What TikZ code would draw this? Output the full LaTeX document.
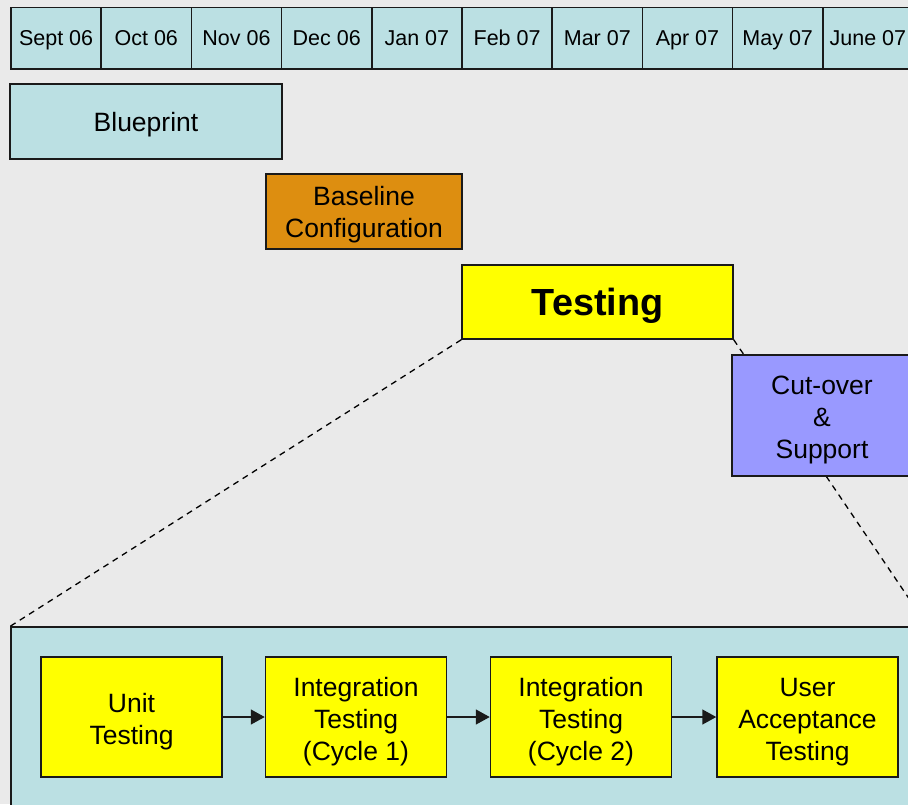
\documentclass[tikz,border=0pt]{standalone}
\usepackage{fontspec}
\setmainfont{Liberation Sans}
\usetikzlibrary{arrows.meta}
\definecolor{bg}{HTML}{EAEAEA}
\definecolor{paleblue}{HTML}{BBE0E3}
\definecolor{amber}{HTML}{DD8E10}
\definecolor{lilac}{HTML}{9999FF}
\definecolor{sun}{HTML}{FFFF00}
\definecolor{edge}{HTML}{1A1A1A}
\begin{document}
\begin{tikzpicture}[x=1pt,y=-1pt,
  box/.style={draw=edge, line width=1.5pt, inner sep=0pt, align=center,
    font=\fontsize{26.5}{32}\selectfont, text height=19pt, text depth=0pt},
  twolines/.style={text height=51pt},
  threelines/.style={text height=83pt},
  cell/.style={box, fill=paleblue, minimum width=90.2, minimum height=61.5,
    font=\fontsize{21.5}{26}\selectfont, text height=15.4pt},
  stage/.style={box, fill=sun, minimum width=181, minimum height=120},
  stagetwo/.style={stage, text height=55pt},
  stagethree/.style={stage, text height=87pt},
  flow/.style={line width=1.5pt, draw=edge, -{Triangle[length=14pt,width=15pt]}},
  zoomline/.style={dashed, dash pattern=on 6pt off 5pt, line width=1.3pt, draw=black}]
\useasboundingbox (0,0) rectangle (908,804);
\fill[bg] (0,0) rectangle (908,804);
\clip (0,0) rectangle (908,804);

% month ruler
\foreach \m [count=\i from 0] in {Sept 06,Oct 06,Nov 06,Dec 06,Jan 07,Feb 07,Mar 07,Apr 07,May 07,June 07}
  \node[cell] (m\i) at ({56.1+90.2*\i},38.25) {\m};

% project phases
\node[box, fill=paleblue, minimum width=272, minimum height=75] (blue) at (146,121.5) {Blueprint};
\node[box, twolines, fill=amber, minimum width=196, minimum height=75] (base) at (364,211.5) {Baseline\\Configuration};
\node[box, fill=sun, minimum width=271, minimum height=74, text height=27pt,
  font=\fontsize{37.8}{44}\selectfont\bfseries] (test) at (597.5,302) {Testing};

% expanded testing panel
\node[box, fill=paleblue, minimum width=916, minimum height=203] (detail) at (469,728.5) {};
\draw[zoomline] (test.south west) -- (detail.north west);
\draw[zoomline] (test.south east) -- (detail.north east);

\node[box, threelines, text height=85pt, fill=lilac, minimum width=180, minimum height=121] (cut) at (822,415.5) {Cut-over\\\&\\Support};

% testing stages
\node[stagetwo] (unit) at (131.5,717) {Unit\\Testing};
\node[stagethree] (int1) at (356,717) {Integration\\Testing\\(Cycle 1)};
\node[stagethree] (int2) at (581,717) {Integration\\Testing\\(Cycle 2)};
\node[stagethree] (uat) at (807.5,717) {User\\Acceptance\\Testing};
\draw[flow] (unit) -- (int1);
\draw[flow] (int1) -- (int2);
\draw[flow] (int2) -- (uat);
\end{tikzpicture}
\end{document}
